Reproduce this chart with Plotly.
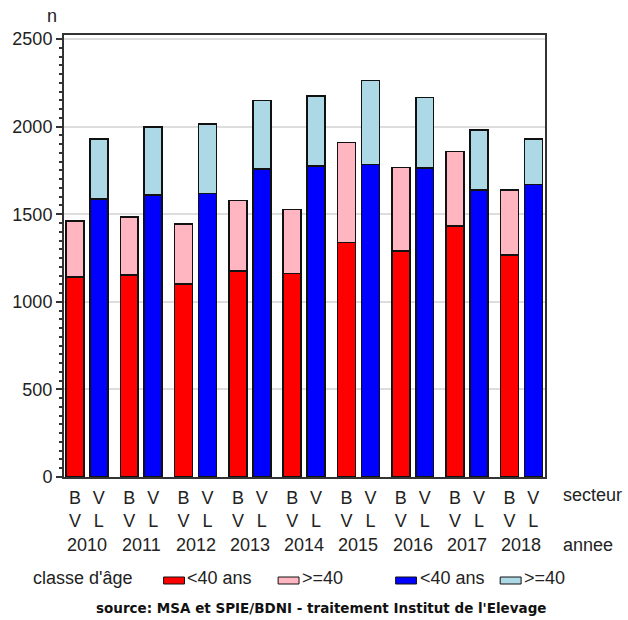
import plotly.graph_objects as go

# ---- data ----
years = ["2010", "2011", "2012", "2013", "2014", "2015", "2016", "2017", "2018"]
sectors = ["BV", "VL"]
sector_ticktext = ["B<br>V", "V<br>L"]
bv_lt40 = [1142, 1154, 1102, 1175, 1163, 1340, 1289, 1433, 1268]
bv_ge40 = [320, 331, 343, 403, 364, 570, 478, 425, 371]
vl_lt40 = [1588, 1611, 1619, 1757, 1774, 1784, 1765, 1639, 1670]
vl_ge40 = [342, 388, 395, 393, 402, 478, 402, 343, 259]
legend_labels = ["<40 ans", ">=40", "<40 ans", ">=40"]
colors = ["#FF0000", "#FFB6C1", "#0000FF", "#ADD8E6"]

# ---- layout geometry (pixels) ----
W, H = 628, 620
L, R, T, B = 62, 545, 35, 477
off = 0.22
bw = 0.33

def xp(px):
    return (px - L) / (R - L)

def yp(py):
    return (B - py) / (B - T)

x_bv = [i - off for i in range(len(years))]
x_vl = [i + off for i in range(len(years))]

fig = go.Figure()
line = dict(color="#111", width=1.5)
for xs, ys, c in [(x_bv, bv_lt40, colors[0]), (x_bv, bv_ge40, colors[1]),
                  (x_vl, vl_lt40, colors[2]), (x_vl, vl_ge40, colors[3])]:
    fig.add_trace(go.Bar(x=xs, y=ys, width=bw, marker=dict(color=c, line=line),
                         showlegend=False, hoverinfo="y"))

tickvals = []
ticktext = []
for i in range(len(years)):
    tickvals += [x_bv[i], x_vl[i]]
    ticktext += sector_ticktext

font = dict(family="Liberation Sans, Arial, sans-serif", size=18, color="#222")

fig.update_layout(
    width=W, height=H,
    margin=dict(l=L, r=W - R, t=T, b=H - B, pad=0),
    barmode="stack",
    plot_bgcolor="white", paper_bgcolor="white",
    font=font,
    xaxis=dict(range=[-0.422, 8.435], tickvals=tickvals, ticktext=ticktext,
               showgrid=False, zeroline=False, showline=True, linecolor="#333",
               linewidth=2, mirror=True, ticks="outside", ticklen=3,
               tickcolor="rgba(0,0,0,0)", tickfont=font, fixedrange=True),
    yaxis=dict(range=[0, 2523], tickvals=[0, 500, 1000, 1500, 2000, 2500],
               showgrid=True, gridcolor="#DDDDDD", gridwidth=1.5, zeroline=False,
               showline=True, linecolor="#333", linewidth=2, mirror=True,
               ticks="outside", ticklen=6, tickwidth=1.5, tickcolor="#333",
               minor=dict(dtick=50, ticks="outside", ticklen=3, tickcolor="#333",
                          showgrid=False),
               tickfont=font, fixedrange=True),
)

ann = []
for i, yr in enumerate(years):
    ann.append(dict(x=i, y=yp(545), xref="x", yref="paper", text=yr, showarrow=False,
                    font=font, xanchor="center", yanchor="middle"))
ann.append(dict(x=xp(561), y=yp(495), xref="paper", yref="paper", text="secteur",
                showarrow=False, font=font, xanchor="left", yanchor="middle"))
ann.append(dict(x=xp(561), y=yp(545), xref="paper", yref="paper", text="annee",
                showarrow=False, font=font, xanchor="left", yanchor="middle"))
ann.append(dict(x=xp(50), y=yp(16), xref="paper", yref="paper", text="n",
                showarrow=False, font=font, xanchor="center", yanchor="middle"))
ann.append(dict(x=xp(29), y=yp(578), xref="paper", yref="paper", text="classe d'âge",
                showarrow=False, font=font, xanchor="left", yanchor="middle"))

shapes = []
sw_x = [162, 277, 395, 500]
for k, sx in enumerate(sw_x):
    shapes.append(dict(type="rect", xref="paper", yref="paper",
                       x0=xp(sx), x1=xp(sx + 21), y0=yp(584), y1=yp(577),
                       fillcolor=colors[k], line=dict(color="#111", width=1)))
    ann.append(dict(x=xp(sx + 22), y=yp(578), xref="paper", yref="paper",
                    text=legend_labels[k], showarrow=False, font=font,
                    xanchor="left", yanchor="middle"))

ann.append(dict(x=xp(321), y=yp(608), xref="paper", yref="paper",
                text="<b>source: MSA et SPIE/BDNI - traitement Institut de l'Elevage</b>",
                showarrow=False,
                font=dict(family="DejaVu Sans, sans-serif", size=13.5, color="#111"),
                xanchor="center", yanchor="middle"))

fig.update_layout(annotations=ann, shapes=shapes)
fig.write_html("out.html", config={"displayModeBar": False},
               post_script="document.body.style.margin='0';document.body.style.padding='0';")
